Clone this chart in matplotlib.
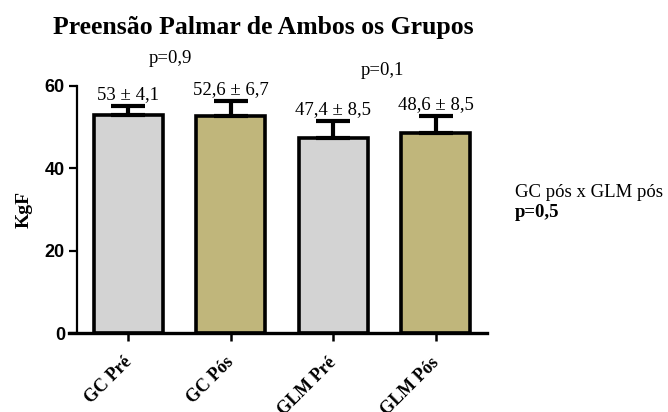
import numpy as np
import matplotlib
matplotlib.use("Agg")
import matplotlib.pyplot as plt
import matplotlib.transforms as mtransforms

# data
groups = ["GC Pré", "GC Pós", "GLM Pré", "GLM Pós"]
means = [53.0, 52.6, 47.4, 48.6]
err_up = [2.2, 3.7, 4.0, 4.1]
bar_labels = ["53 ± 4,1", "52,6 ± 6,7", "47,4 ± 8,5", "48,6 ± 8,5"]
bar_colors = ["#d3d3d3", "#c0b67b", "#d3d3d3", "#c0b67b"]
yticks = [0, 20, 40, 60]

serif = "Liberation Serif"
sans = "Liberation Sans"

fig = plt.figure(figsize=(6.68, 4.12), dpi=100)
ax = fig.add_axes([0.1033, 0.1917, 0.6257, 0.5996])

x = np.arange(len(groups))
ax.bar(x, means, width=0.673, color=bar_colors, edgecolor="black",
       linewidth=2.6, zorder=2)
ax.errorbar(x, means, yerr=[np.zeros(len(means)), err_up], fmt="none",
            ecolor="black", elinewidth=3, capsize=12, capthick=3,
            zorder=3, clip_on=False)

for xi, m, e, lab in zip(x, means, err_up, bar_labels):
    ax.annotate(lab, (xi, m + e), xytext=(0, 5), textcoords="offset points",
                ha="center", va="baseline", fontsize=13.5, family=serif,
                annotation_clip=False)

ax.text(0.41, 65.6, "p=0,9", ha="center", va="baseline", fontsize=13.5,
        family=serif, clip_on=False)
ax.text(2.48, 62.7, "p=0,1", ha="center", va="baseline", fontsize=13.5,
        family=serif, clip_on=False)

ax.set_xlim(-0.576, 3.502)
ax.set_ylim(0, 60)
ax.spines["top"].set_visible(False)
ax.spines["right"].set_visible(False)
ax.spines["left"].set_position(("data", -0.5))
ax.spines["left"].set_linewidth(1.6)
ax.spines["bottom"].set_linewidth(2.4)

ax.set_yticks(yticks)
ax.set_yticklabels([str(v) for v in yticks], fontsize=13,
                   fontweight="bold", family=sans)
ax.tick_params(axis="y", length=6, width=1.6, pad=2.5)
ax.set_xticks(x)
ax.set_xticklabels(groups, rotation=45, ha="right", fontsize=13,
                   fontweight="bold", family=serif)
ax.tick_params(axis="x", length=6, width=1.8, pad=9)
shift = mtransforms.ScaledTranslation(5 / 72, 0, fig.dpi_scale_trans)
for t in ax.get_xticklabels():
    t.set_transform(t.get_transform() + shift)

ax.set_ylabel("KgF", fontsize=14, fontweight="bold", family=serif)
ax.yaxis.set_label_coords(-0.086, 0.5)

fig.text(0.394, 0.918, "Preensão Palmar de Ambos os Grupos", ha="center",
         va="baseline", fontsize=18.5, fontweight="bold", family=serif)
fig.text(0.771, 0.522, "GC pós x GLM pós", ha="left", va="baseline",
         fontsize=13.5, family=serif)
fig.text(0.771, 0.473, "p=0,5", ha="left", va="baseline",
         fontsize=13.5, fontweight="bold", family=serif)

fig.savefig("out.png", dpi=100)
